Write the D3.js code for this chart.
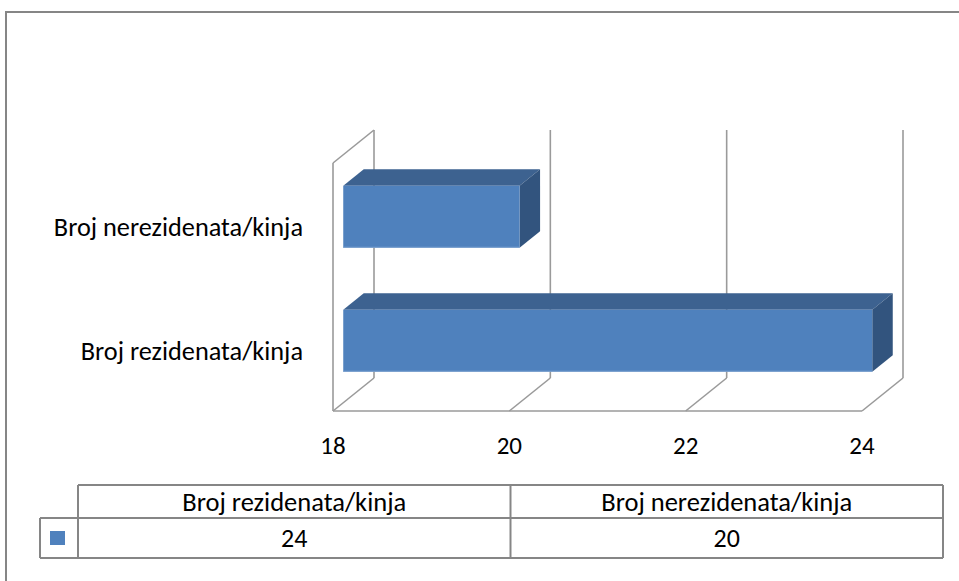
<!DOCTYPE html>
<html>
<head>
<meta charset="utf-8">
<script src="https://cdn.jsdelivr.net/npm/d3@7"></script>
<style>
  html, body { margin: 0; padding: 0; background: #fff; }
  svg { display: block; }
  text { font-family: Carlito, Calibri, Lato, "Open Sans", sans-serif; fill: #000; }
</style>
</head>
<body>
<svg id="chart" width="959" height="581"></svg>
<script>
// ---- data ----
const categories = ["Broj rezidenata/kinja", "Broj nerezidenata/kinja"];
const values = [24, 20];
const tickValues = [18, 20, 22, 24];
const seriesColor = "#4F81BD";

// ---- layout ----
const svg = d3.select("#chart");
const grid = "#9A9A9A";
const tableLine = "#868686";

// outer border (runs off canvas right/bottom)
svg.append("rect").attr("x", 6).attr("y", 12).attr("width", 1000).attr("height", 700)
  .attr("fill", "none").attr("stroke", tableLine).attr("stroke-width", 2);

// 3D projection
const x = d3.scaleLinear().domain([18, 24]).range([333, 862]);
const y = d3.scaleBand().domain(categories.slice().reverse()).range([163, 411])
  .paddingInner(0.5).paddingOuter(0.25);
const DX = 41, DY = -33;
const P = (v, yy, z) => [x(v) + z * DX, yy + z * DY];
const yTop = 163, yBot = 411;

const g = svg.append("g");
const line = (a, b) => g.append("line").attr("x1", a[0]).attr("y1", a[1]).attr("x2", b[0]).attr("y2", b[1])
  .attr("stroke", grid).attr("stroke-width", 1.6);

// back wall gridlines
tickValues.forEach(t => {
  if (t !== x.domain()[0]) line(P(t, yBot, 1), P(t, yTop, 1));
});
// left wall
line(P(18, yBot, 0), P(18, yTop, 0));
line(P(18, yBot, 1), P(18, yTop, 1));
line(P(18, yTop, 0), P(18, yTop, 1));
// floor
tickValues.forEach(t => line(P(t, yBot, 0), P(t, yBot, 1)));
line(P(18, yBot, 0), P(24, yBot, 0));

// bars
const z0 = 0.25, z1 = 0.75;
const poly = pts => pts.map(p => p.join(",")).join(" ");
categories.forEach((c, i) => {
  const v = values[i];
  const y0 = y(c), y1 = y(c) + y.bandwidth();
  const bg = g.append("g");
  bg.append("polygon").attr("points", poly([P(18, y0, z0), P(v, y0, z0), P(v, y0, z1), P(18, y0, z1)]))
    .attr("fill", "#3D6290");
  bg.append("polygon").attr("points", poly([P(v, y0, z0), P(v, y0, z1), P(v, y1, z1), P(v, y1, z0)]))
    .attr("fill", "#32547E");
  const f0 = P(18, y0, z0), f1 = P(v, y1, z0);
  bg.append("rect").attr("x", f0[0]).attr("y", f0[1]).attr("width", f1[0] - f0[0]).attr("height", f1[1] - f0[1])
    .attr("fill", seriesColor);
  bg.append("line").attr("x1", f0[0]).attr("x2", f1[0]).attr("y1", f1[1] - 0.5).attr("y2", f1[1] - 0.5)
    .attr("stroke", "#7FA3D0").attr("stroke-width", 1);
});

// category labels
categories.forEach(c => {
  svg.append("text").attr("x", 303).attr("y", y(c) + y.bandwidth() / 2 + 11)
    .attr("text-anchor", "end").attr("font-size", 26.3).text(c);
});
// tick labels
tickValues.forEach(t => {
  svg.append("text").attr("x", x(t)).attr("y", 454).attr("text-anchor", "middle")
    .attr("font-size", 25).text(t);
});

// ---- data table ----
const tx0 = 78, tLeg = 40, tx1 = 943, tyTop = 485, tyMid = 518, tyBot = 558;
const col = d3.scaleBand().domain(categories).range([tx0, tx1]);
const tg = svg.append("g").attr("stroke", tableLine).attr("stroke-width", 2).attr("fill", "none");
tg.append("line").attr("x1", tx0).attr("x2", tx1).attr("y1", tyTop).attr("y2", tyTop);
tg.append("line").attr("x1", tLeg).attr("x2", tx1).attr("y1", tyMid).attr("y2", tyMid);
tg.append("line").attr("x1", tLeg).attr("x2", tx1).attr("y1", tyBot).attr("y2", tyBot);
tg.append("line").attr("x1", tLeg).attr("x2", tLeg).attr("y1", tyMid).attr("y2", tyBot);
categories.forEach(c => {
  tg.append("line").attr("x1", col(c)).attr("x2", col(c)).attr("y1", tyTop).attr("y2", tyBot);
});
tg.append("line").attr("x1", tx1).attr("x2", tx1).attr("y1", tyTop).attr("y2", tyBot);

svg.append("rect").attr("x", 50).attr("y", 531).attr("width", 15).attr("height", 14).attr("fill", seriesColor);
categories.forEach((c, i) => {
  const cx = col(c) + col.bandwidth() / 2;
  svg.append("text").attr("x", cx).attr("y", 511).attr("text-anchor", "middle").attr("font-size", 26.5).text(c);
  svg.append("text").attr("x", cx).attr("y", 547).attr("text-anchor", "middle").attr("font-size", 26).text(values[i]);
});
</script>
</body>
</html>
